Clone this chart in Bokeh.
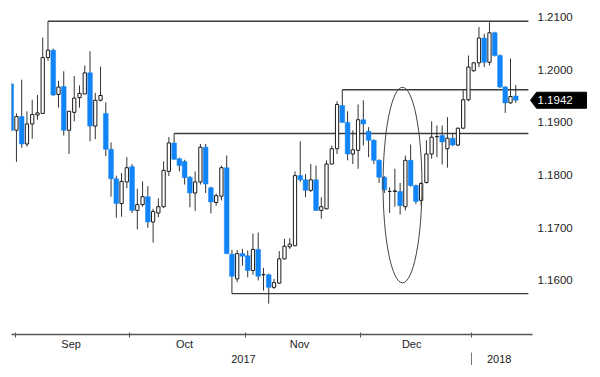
from bokeh.plotting import figure
from bokeh.models import (ColumnDataSource, FixedTicker, LinearAxis, Range1d, Label,
                          PolyAnnotation, PrintfTickFormatter, CustomJSTickFormatter)
from bokeh.embed import file_html
from bokeh.resources import INLINE

# ---- data (daily EUR/USD-like candles, Aug 30 2017 .. Jan 11 2018) ----
opens = [1.1973, 1.1885, 1.1911, 1.1859, 1.1897, 1.1914, 1.1917, 1.2023, 1.2037, 1.1953,
         1.1968, 1.1885, 1.1919, 1.1947, 1.1954, 1.1994, 1.1893, 1.1942, 1.1917, 1.1849,
         1.1793, 1.1746, 1.1787, 1.1816, 1.1733, 1.1744, 1.1759, 1.1711, 1.1728, 1.1740,
         1.1807, 1.1861, 1.1831, 1.1826, 1.1796, 1.1766, 1.1787, 1.1853, 1.1776, 1.1748,
         1.1760, 1.1814, 1.1650, 1.1603, 1.1651, 1.1647, 1.1619, 1.1659, 1.1611, 1.1611,
         1.1587, 1.1595, 1.1641, 1.1664, 1.1666, 1.1799, 1.1791, 1.1771, 1.1791, 1.1733,
         1.1736, 1.1821, 1.1850, 1.1932, 1.1900, 1.1840, 1.1847, 1.1905, 1.1883, 1.1866,
         1.1828, 1.1796, 1.1769, 1.1769, 1.1769, 1.1740, 1.1828, 1.1780, 1.1752, 1.1786,
         1.1840, 1.1873, 1.1875, 1.1850, 1.1870, 1.1857, 1.1889, 1.1943, 1.1998, 1.2013,
         1.2060, 1.2014, 1.2070, 1.2027, 1.1967, 1.1937, 1.1950]
highs = [1.1976, 1.1917, 1.1981, 1.1921, 1.1943, 1.1952, 1.2061, 1.2092, 1.2040, 1.1979,
         1.1997, 1.1922, 1.1988, 1.1970, 1.2008, 1.2035, 1.1956, 1.2006, 1.1938, 1.1862,
         1.1799, 1.1804, 1.1834, 1.1821, 1.1774, 1.1788, 1.1779, 1.1736, 1.1756, 1.1826,
         1.1872, 1.1879, 1.1833, 1.1829, 1.1798, 1.1807, 1.1859, 1.1859, 1.1778, 1.1765,
         1.1818, 1.1837, 1.1658, 1.1658, 1.1660, 1.1657, 1.1689, 1.1691, 1.1624, 1.1613,
         1.1603, 1.1656, 1.1679, 1.1680, 1.1807, 1.1864, 1.1802, 1.1821, 1.1818, 1.1758,
         1.1828, 1.1856, 1.1940, 1.1962, 1.1921, 1.1885, 1.1934, 1.1942, 1.1891, 1.1868,
         1.1830, 1.1798, 1.1777, 1.1812, 1.1785, 1.1837, 1.1858, 1.1782, 1.1787, 1.1866,
         1.1902, 1.1894, 1.1894, 1.1910, 1.1880, 1.1890, 1.1961, 1.2027, 1.2014, 1.2081,
         1.2068, 1.2090, 1.2072, 1.2029, 1.1969, 1.2021, 1.1971]
lows = [1.1883, 1.1825, 1.1852, 1.1854, 1.1869, 1.1905, 1.1916, 1.2017, 1.1950, 1.1928,
        1.1875, 1.1840, 1.1902, 1.1928, 1.1953, 1.1864, 1.1868, 1.1940, 1.1836, 1.1759,
        1.1719, 1.1721, 1.1775, 1.1728, 1.1697, 1.1740, 1.1700, 1.1672, 1.1720, 1.1738,
        1.1798, 1.1829, 1.1807, 1.1782, 1.1739, 1.1732, 1.1782, 1.1766, 1.1727, 1.1742,
        1.1752, 1.1650, 1.1575, 1.1597, 1.1628, 1.1606, 1.1611, 1.1600, 1.1581, 1.1556,
        1.1584, 1.1594, 1.1640, 1.1660, 1.1665, 1.1787, 1.1758, 1.1768, 1.1732, 1.1717,
        1.1735, 1.1820, 1.1840, 1.1899, 1.1828, 1.1821, 1.1812, 1.1856, 1.1834, 1.1821,
        1.1785, 1.1766, 1.1728, 1.1740, 1.1725, 1.1733, 1.1778, 1.1745, 1.1742, 1.1784,
        1.1831, 1.1834, 1.1820, 1.1814, 1.1855, 1.1855, 1.1887, 1.1940, 1.1996, 1.2005,
        1.2005, 1.2008, 1.2025, 1.1965, 1.1918, 1.1935, 1.1937]
closes = [1.1885, 1.1911, 1.1859, 1.1897, 1.1915, 1.1918, 1.2023, 1.2037, 1.1952, 1.1967,
          1.1885, 1.1921, 1.1946, 1.1955, 1.1994, 1.1893, 1.1942, 1.1951, 1.1849, 1.1793,
          1.1746, 1.1788, 1.1814, 1.1733, 1.1744, 1.1759, 1.1711, 1.1731, 1.1740, 1.1809,
          1.1861, 1.1830, 1.1818, 1.1795, 1.1766, 1.1787, 1.1853, 1.1783, 1.1749, 1.1761,
          1.1814, 1.1651, 1.1608, 1.1651, 1.1646, 1.1619, 1.1659, 1.1608, 1.1611, 1.1587,
          1.1596, 1.1641, 1.1665, 1.1669, 1.1799, 1.1791, 1.1771, 1.1791, 1.1733, 1.1740,
          1.1821, 1.1850, 1.1934, 1.1900, 1.1840, 1.1848, 1.1905, 1.1897, 1.1866, 1.1828,
          1.1796, 1.1772, 1.1769, 1.1770, 1.1742, 1.1828, 1.1780, 1.1750, 1.1784, 1.1840,
          1.1872, 1.1873, 1.1863, 1.1870, 1.1857, 1.1889, 1.1943, 1.2005, 1.2013, 1.2060,
          1.2014, 1.2070, 1.2027, 1.1967, 1.1937, 1.1949, 1.1942]

# support / resistance levels and the candle each one starts from
level_values = [1.2092, 1.1962, 1.1879, 1.1575]
level_anchor = [7, 63, 31, 42]
level_end = 98.4

# ellipse highlighting the December base
ellipse_x, ellipse_y = 74.45, 1.1781
ellipse_w, ellipse_h = 7.4, 0.0371

price_ticks = [1.16, 1.17, 1.18, 1.19, 1.20, 1.21]
month_bounds = [0.9, 22.5, 44.5, 66.5, 87.5]
month_names = ["Sep", "Oct", "Nov", "Dec"]
month_label_pos = [11.4, 33.0, 54.85, 76.2]
year_bounds = [0.9, 87.5, 98.2]
year_names = ["2017", "2018"]
axis_end = 99.18

# ---- style ----
FONT = "Liberation Sans"
FS = "11px"
BLUE = "#1185f7"
WICK = "#333333"
LINE = "#3c3c3c"
TEXT = "#222222"

n = len(opens)
idx = list(range(n))
up = [i for i in idx if closes[i] >= opens[i]]
dn = [i for i in idx if closes[i] < opens[i]]

wick_src = ColumnDataSource(dict(x=idx, lo=lows, hi=highs))
up_src = ColumnDataSource(dict(x=up, top=[closes[i] for i in up], bottom=[opens[i] for i in up]))
dn_src = ColumnDataSource(dict(x=dn, top=[opens[i] for i in dn], bottom=[closes[i] for i in dn]))

p = figure(frame_width=579, frame_height=326,
           x_range=Range1d(0.06, 110.22), y_range=Range1d(1.14975, 1.21161),
           y_axis_location="right", toolbar_location=None, tools="",
           output_backend="svg", min_border_left=11, min_border_right=2,
           min_border_top=8, min_border_bottom=0)
p.background_fill_color = "white"
p.border_fill_color = "white"
p.outline_line_color = None
p.xgrid.visible = False
p.ygrid.visible = False

# levels
p.segment(x0=level_anchor, y0=level_values, x1=[level_end] * len(level_values),
          y1=level_values, line_color=LINE, line_width=1.4)

# candles
p.segment(x0="x", y0="lo", x1="x", y1="hi", source=wick_src, line_color=WICK, line_width=1)
p.vbar(x="x", top="top", bottom="bottom", width=0.9, source=dn_src,
       fill_color=BLUE, line_color=BLUE, line_width=0.5)
p.vbar(x="x", top="top", bottom="bottom", width=0.62, source=up_src,
       fill_color="white", line_color="#1a1a1a", line_width=1)

# ellipse
p.ellipse(x=[ellipse_x], y=[ellipse_y], width=[ellipse_w], height=[ellipse_h],
          fill_color=None, line_color="#444444", line_width=1)

# price tag for the last close
last = closes[-1]
half = 0.00152
tag = PolyAnnotation(xs=[519, 525, 575, 575, 525],
                     ys=[last, last + half, last + half, last - half, last - half],
                     xs_units="screen", ys_units="data", fill_color="black", fill_alpha=1.0,
                     line_color="black", line_alpha=1.0)
p.add_layout(tag)
p.add_layout(Label(x=526, y=last, x_units="screen", y_units="data", text=f"{last:.4f}",
                   text_color="white", text_font=FONT, text_font_size="11.5px",
                   text_baseline="middle", text_align="left"))

# right price axis (labels sit just right of the candle area)
ya = p.yaxis[0]
ya.ticker = FixedTicker(ticks=price_ticks)
ya.formatter = PrintfTickFormatter(format="%.4f")
ya.axis_line_color = None
ya.major_tick_line_color = None
ya.minor_tick_line_color = None
ya.major_tick_out = 0
ya.major_tick_in = 0
ya.minor_tick_out = 0
ya.minor_tick_in = 0
ya.major_label_standoff = -53
ya.major_label_text_font = FONT
ya.major_label_text_font_size = "11.5px"
ya.major_label_text_color = TEXT

# month axis
fmt_js = """
let best = ''; let bd = 1e9;
for (let i = 0; i < pos.length; i++) {
  const d = Math.abs(pos[i] - tick);
  if (d < bd) { bd = d; best = names[i]; }
}
return bd < 0.01 ? best : '';
"""
xa = p.xaxis[0]
xa.bounds = (0.06, axis_end)
xa.ticker = FixedTicker(ticks=month_label_pos, minor_ticks=month_bounds)
xa.formatter = CustomJSTickFormatter(args=dict(pos=month_label_pos, names=month_names), code=fmt_js)
xa.axis_line_color = "#555555"
xa.axis_line_width = 1.5
xa.major_tick_line_color = None
xa.major_tick_out = 0
xa.major_tick_in = 0
xa.minor_tick_line_color = "#555555"
xa.minor_tick_in = 2
xa.minor_tick_out = 3
xa.major_label_standoff = 0
xa.major_label_text_font = FONT
xa.major_label_text_font_size = FS
xa.major_label_text_color = TEXT

# year axis
year_centers = [(year_bounds[i] + year_bounds[i + 1]) / 2 for i in range(len(year_names))]
xa2 = LinearAxis(ticker=FixedTicker(ticks=year_centers, minor_ticks=year_bounds[1:-1]),
                 formatter=CustomJSTickFormatter(args=dict(pos=year_centers, names=year_names),
                                                 code=fmt_js))
xa2.bounds = (0.06, axis_end)
xa2.axis_line_color = None
xa2.major_tick_line_color = None
xa2.major_tick_out = 0
xa2.major_tick_in = 0
xa2.minor_tick_line_color = "#777777"
xa2.minor_tick_in = 0
xa2.minor_tick_out = 16
xa2.major_label_standoff = -14
xa2.major_label_text_font = FONT
xa2.major_label_text_font_size = FS
xa2.major_label_text_color = TEXT
p.add_layout(xa2, "below")

open("out.html", "w").write(file_html(p, INLINE))
